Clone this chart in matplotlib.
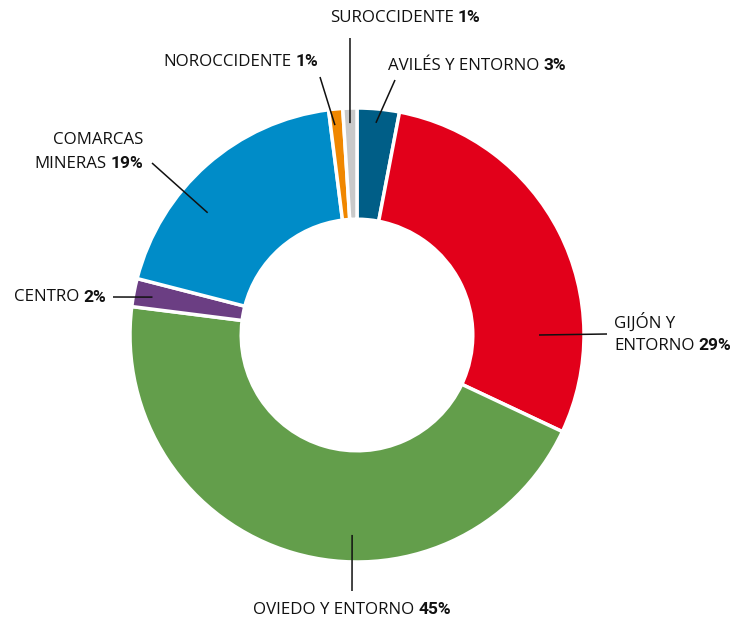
import numpy as np
import matplotlib
matplotlib.use("Agg")
import matplotlib.pyplot as plt

# ---- data ----
regions = ["AVILÉS Y ENTORNO", "GIJÓN Y ENTORNO", "OVIEDO Y ENTORNO", "CENTRO",
           "COMARCAS MINERAS", "NOROCCIDENTE", "SUROCCIDENTE"]
shares = [3, 29, 45, 2, 19, 1, 1]
colors = ["#005E87", "#E2001A", "#639E4B", "#6B3E83", "#008CC8", "#F08700", "#C9C9C9"]

# label text lines (normal part, bold part appended to the last line)
label_lines = [
    ["AVILÉS Y ENTORNO"],
    ["GIJÓN Y", "ENTORNO"],
    ["OVIEDO Y ENTORNO"],
    ["CENTRO"],
    ["COMARCAS", "MINERAS"],
    ["NOROCCIDENTE"],
    ["SUROCCIDENTE"],
]

W, H = 750, 621
FONT = "Open Sans"
BOLD_FONT = "Roboto"
FS = 12.2

fig = plt.figure(figsize=(W / 100, H / 100), dpi=100)
ax = fig.add_axes([0, 0, 1, 1])

cx, cy, R = 357, H - 335, 227
wedges, _ = ax.pie(shares, colors=colors, startangle=90, counterclock=False,
                   center=(cx, cy), radius=R,
                   wedgeprops=dict(width=R * 0.49, edgecolor="white", linewidth=2.5))
ax.set_xlim(0, W)
ax.set_ylim(0, H)
ax.axis("off")

renderer = fig.canvas.get_renderer()


def put_line(x, y, normal, bold, ha):
    """Place 'normal bold' text with its anchor at (x, y) in pixel-like data coords."""
    t1 = ax.text(0, y, normal, fontsize=FS, family=FONT,
                 va="center", ha="left", color="#111111")
    w1 = t1.get_window_extent(renderer).width
    gap = 4 if bold else 0
    w2 = 0
    t2 = None
    if bold:
        t2 = ax.text(0, y, bold, fontsize=FS + 0.3, family=BOLD_FONT, fontweight="bold",
                     va="center", ha="left", color="#111111")
        w2 = t2.get_window_extent(renderer).width
    total = w1 + gap + w2
    if ha == "left":
        x0 = x
    elif ha == "right":
        x0 = x - total
    else:
        x0 = x - total / 2
    t1.set_x(x0)
    if t2 is not None:
        t2.set_x(x0 + w1 + gap)


# layout: (line start angle deg, start radius, line end (px), text anchor (px), ha)
layout = [
    (84.9, 213, (395, 80), (388, 66), "left"),
    (0.0, 182, (607, 334), (614, 322), "left"),
    (-91.4, 200, (352, 591), (352, 610), "center"),
    (169.5, 208, (113, 297), (106, 297), "right"),
    (140.7, 193, (152, 163), (143, 140), "right"),
    (96.0, 211, (320, 77), (318, 62), "right"),
    (91.9, 212, (350, 38), (405, 18), "center"),
]
LINE_H = 24

for lines, share, (ang, r, end, tpos, ha) in zip(label_lines, shares, layout):
    a = np.deg2rad(ang)
    sx, sy = cx + r * np.cos(a), cy + r * np.sin(a)
    ex, ey = end[0], H - end[1]
    ax.plot([sx, ex], [sy, ey], color="#111111", lw=1.1, solid_capstyle="butt")
    for i, ln in enumerate(lines):
        bold = f"{share}%" if i == len(lines) - 1 else None
        put_line(tpos[0], H - (tpos[1] + i * LINE_H), ln, bold, ha)

fig.savefig("out.png", dpi=100)
